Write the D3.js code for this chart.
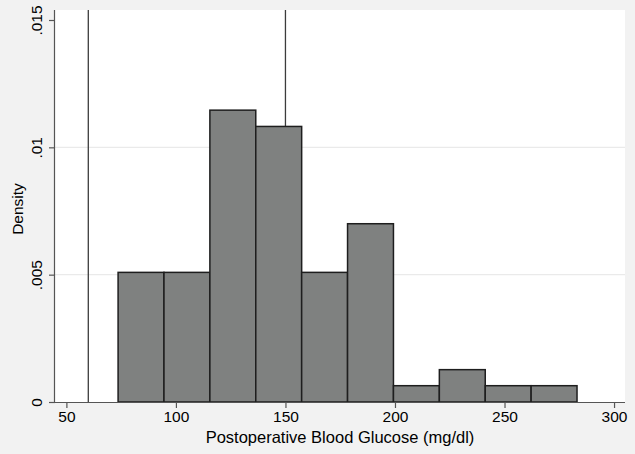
<!DOCTYPE html>
<html>
<head>
<meta charset="utf-8">
<script src="https://cdn.jsdelivr.net/npm/d3@7"></script>
<style>
  body { margin: 0; background: #f2f2f2; }
  svg { display: block; font-family: "Liberation Sans", Arial, Helvetica, sans-serif; }
</style>
</head>
<body>
<div id="chart"></div>
<script>
// histogram bins (mg/dl) and densities
var binEdges = [73.6, 94.55, 115.5, 136.45, 157.4, 178.35, 199.3, 220.25, 241.2, 262.15, 283.1];
var densities = [0.00509, 0.00509, 0.01146, 0.01082, 0.00509, 0.0070, 0.00064, 0.00127, 0.00064, 0.00064];
var refLines = [60, 150];
var xTicks = [50, 100, 150, 200, 250, 300];
var yTicks = [0, 0.005, 0.01, 0.015];
var yTickLabels = ["0", ".005", ".01", ".015"];

var width = 635, height = 454;
var margin = {top: 10, right: 10, bottom: 52, left: 55};

var svg = d3.select("#chart").append("svg")
    .attr("width", width).attr("height", height);

svg.append("rect").attr("width", width).attr("height", height).attr("fill", "#f2f2f2");

var x = d3.scaleLinear().domain([44.8, 305]).range([margin.left, width - margin.right]);
var y = d3.scaleLinear().domain([0, 0.015]).range([height - margin.bottom, 20]);

// plot region
svg.append("rect")
    .attr("x", margin.left).attr("y", margin.top)
    .attr("width", width - margin.left - margin.right)
    .attr("height", height - margin.top - margin.bottom)
    .attr("fill", "#ffffff");

// gridlines
svg.selectAll(".grid")
    .data(yTicks.slice(1, 3))
    .enter().append("line")
    .attr("x1", margin.left).attr("x2", width - margin.right)
    .attr("y1", function(d){ return y(d); })
    .attr("y2", function(d){ return y(d); })
    .attr("stroke", "#eaeaea").attr("stroke-width", 1.2);

// reference lines
svg.selectAll(".ref")
    .data(refLines)
    .enter().append("line")
    .attr("x1", function(d){ return x(d); })
    .attr("x2", function(d){ return x(d); })
    .attr("y1", margin.top).attr("y2", y(0))
    .attr("stroke", "#3c3c3c").attr("stroke-width", 1.3);

// bars
svg.selectAll(".bar")
    .data(densities)
    .enter().append("rect")
    .attr("x", function(d, i){ return x(binEdges[i]); })
    .attr("width", function(d, i){ return x(binEdges[i + 1]) - x(binEdges[i]); })
    .attr("y", function(d){ return y(d); })
    .attr("height", function(d){ return y(0) - y(d); })
    .attr("fill", "#7f8180")
    .attr("stroke", "#1e1e1e")
    .attr("stroke-width", 1.5);

// axes
var xAxis = svg.append("g")
    .attr("transform", "translate(0," + y(0) + ")")
    .call(d3.axisBottom(x).tickValues(xTicks).tickSize(6).tickPadding(3).tickSizeOuter(0));

var yAxis = svg.append("g")
    .attr("transform", "translate(" + margin.left + ",0)")
    .call(d3.axisLeft(y).tickValues(yTicks).tickSize(6).tickSizeOuter(0)
      .tickFormat(function(d, i){ return yTickLabels[i]; }));

[xAxis, yAxis].forEach(function(g){
  g.select(".domain").attr("stroke", "#555").attr("stroke-width", 1.2)
  g.selectAll(".tick line").attr("stroke", "#555").attr("stroke-width", 1.2);
  g.selectAll(".tick text").attr("fill", "#000").attr("font-size", "15.5px");
});
xAxis.select(".domain").attr("d", "M" + margin.left + ",0.5H" + (width - margin.right));
yAxis.select(".domain").attr("d", "M-0.5," + (height - margin.bottom) + "V" + margin.top);

yAxis.selectAll(".tick text")
    .attr("x", 0).attr("dy", 0)
    .attr("transform", "translate(-13,0) rotate(-90)")
    .style("text-anchor", "middle");

// titles
svg.append("text")
    .attr("x", (margin.left + width - margin.right) / 2)
    .attr("y", 443)
    .attr("text-anchor", "middle")
    .attr("font-size", "16.5px")
    .text("Postoperative Blood Glucose (mg/dl)");

svg.append("text")
    .attr("transform", "translate(23," + ((margin.top + height - margin.bottom) / 2 + 3) + ") rotate(-90)")
    .attr("text-anchor", "middle")
    .attr("font-size", "15.5px")
    .text("Density");
</script>
</body>
</html>
